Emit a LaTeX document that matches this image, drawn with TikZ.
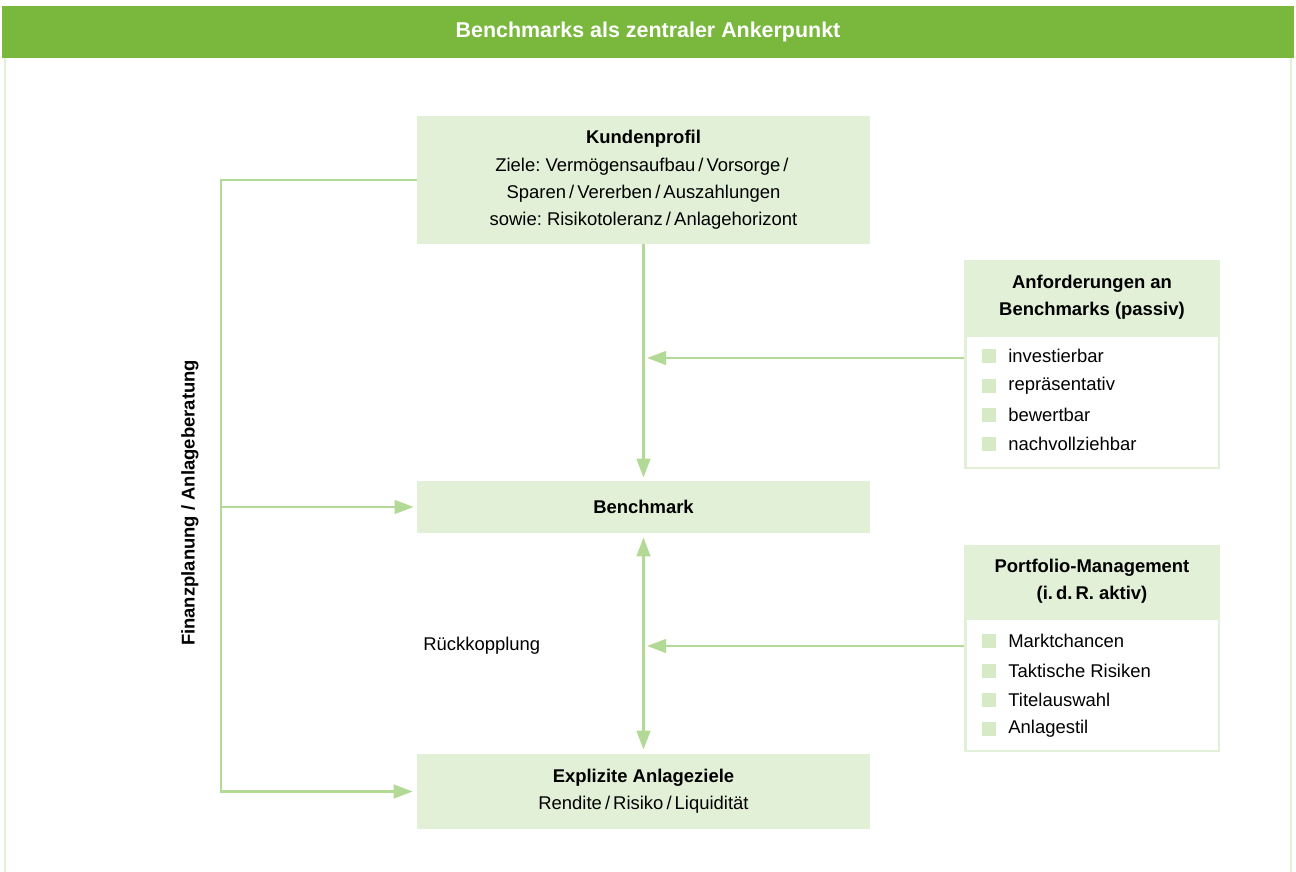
\documentclass[tikz,border=0pt]{standalone}
\usepackage{fontspec}
\setmainfont{Liberation Sans}
\usetikzlibrary{arrows.meta}
\definecolor{headgreen}{RGB}{122,184,61}
\definecolor{boxgreen}{RGB}{227,240,216}
\definecolor{arrgreen}{RGB}{178,218,150}
\definecolor{dotgreen}{RGB}{214,234,200}
\newcommand{\sep}{\,/\,}
\frenchspacing
\begin{document}
\begin{tikzpicture}[x=0.02cm, y=-0.02cm,
  font=\fontsize{10.5}{15.5}\selectfont,
  box/.style={fill=boxgreen, align=center, inner sep=0pt, minimum width=9.06cm},
  sidehead/.style={fill=boxgreen, align=center, inner sep=0pt, minimum width=5.12cm},
  sidebody/.style={draw=boxgreen, line width=1.4pt, fill=white, inner sep=0pt,
    minimum width=5.07cm, minimum height=2.65cm},
  dot/.style={fill=dotgreen, inner sep=0pt, minimum size=0.28cm},
  item/.style={anchor=west, inner sep=0pt},
  line/.style={draw=arrgreen, line width=1.6pt},
  arr/.style={line, -{Triangle[length=0.38cm, width=0.27cm]}},
  arrr/.style={line, {Triangle[length=0.38cm, width=0.27cm]}-{Triangle[length=0.38cm, width=0.27cm]}}]
\useasboundingbox (0,0) rectangle (1296,872);
% frame and title bar
\draw[boxgreen, line width=1.2pt] (5,58) -- (5,872);
\draw[boxgreen, line width=1.2pt] (1291,58) -- (1291,872);
\node[fill=headgreen, minimum width=25.84cm, minimum height=1.04cm, inner sep=0pt,
  text=white, font=\fontsize{12.2}{14}\selectfont\bfseries] (title) at (648,32)
  {Benchmarks als zentraler Ankerpunkt};
% main column
\node[box, minimum height=2.56cm] (kp) at (643.5,180)
  {\textbf{Kundenprofil}\\ Ziele: Verm\"ogensaufbau\sep Vorsorge\sep\\
   Sparen\sep Vererben\sep Auszahlungen\\ sowie: Risikotoleranz\sep Anlagehorizont};
\node[box, minimum height=1.04cm] (bm) at (643.5,507) {\textbf{Benchmark}};
\node[box, minimum height=1.5cm] (ez) at (643.5,791.5)
  {\textbf{Explizite Anlageziele}\\ Rendite\sep Risiko\sep Liquidit\"at};
% side boxes
\node[sidebody] (anfbody) at (1092,402) {};
\node[sidehead, minimum height=1.5cm] (anf) at (1092,297.5)
  {\textbf{Anforderungen an}\\ \textbf{Benchmarks (passiv)}};
\node[sidebody] (pmbody) at (1092,685) {};
\node[sidehead, minimum height=1.46cm] (pm) at (1092,581.5)
  {\textbf{Portfolio-Management}\\ \textbf{(i.\,d.\,R. aktiv)}};
\foreach \t [count=\i] in {investierbar, repr\"asentativ, bewertbar, nachvollziehbar} {
  \node[dot] (anfdot\i) at (989,{327+29.3*\i}) {};
  \node[item] (anfitem\i) at (1008,{327+29.3*\i}) {\t};
}
\foreach \t [count=\i] in {Marktchancen, Taktische Risiken, Titelauswahl, Anlagestil} {
  \node[dot] (pmdot\i) at (989,{612+29.3*\i}) {};
  \node[item] (pmitem\i) at (1008,{612+29.3*\i}) {\t};
}
% labels
\node[rotate=90, font=\fontsize{10.5}{12}\selectfont\bfseries] (fpl) at (190,503)
  {Finanzplanung / Anlageberatung};
\node[anchor=west, inner sep=0pt] (rk) at (423,646) {R\"uckkopplung};
% connectors
\coordinate (anfin) at (647,358);
\coordinate (pmin) at (647,646);
\coordinate (fpbranch) at (221,507);
\draw[arr, shorten >=0.06cm] (kp.south) -- (bm.north);
\draw[arrr, shorten <=0.08cm, shorten >=0.08cm] (bm.south) -- (ez.north);
\draw[arr] (anfbody.west |- anfin) -- (anfin);
\draw[arr] (pmbody.west |- pmin) -- (pmin);
\draw[arr, shorten >=0.08cm] (kp.west) -- (fpbranch |- kp.west) -- (fpbranch |- ez.west) -- (ez.west);
\draw[arr, shorten >=0.06cm] (fpbranch) -- (bm.west);
\end{tikzpicture}
\end{document}
